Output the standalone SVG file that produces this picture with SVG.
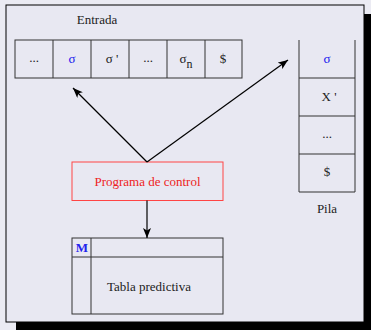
<svg xmlns="http://www.w3.org/2000/svg" width="371" height="330" viewBox="0 0 371 330">
<defs>
<marker id="ah" viewBox="0 0 10 8" refX="10" refY="4" markerWidth="10" markerHeight="8" markerUnits="userSpaceOnUse" orient="auto">
<path d="M0,0 L10,4 L0,8 L2.5,4 Z" fill="#000"/>
</marker>
</defs>
<style>
text{font-family:'Liberation Serif','DejaVu Serif',serif;font-size:13px;fill:#222;text-anchor:middle}
.cell{fill:none;stroke:#333;stroke-width:1}
.blue{fill:#2222ee}
.red{fill:#ee2222}
.conn{stroke:#000;stroke-width:1.2;fill:none;marker-end:url(#ah)}
</style>
<rect x="0" y="0" width="371" height="330" fill="#ebebf3"/>
<rect x="16" y="14" width="355" height="316" fill="#000"/>
<rect x="6" y="5" width="358" height="317" fill="#e8e8f2" stroke="#000" stroke-width="1"/>
<g font-family="Liberation Serif, serif">
<text x="97" y="24">Entrada</text>
<g id="entrada">
<rect class="cell" x="15" y="40" width="227" height="38"/>
<line class="cell" x1="53" y1="40" x2="53" y2="78"/>
<line class="cell" x1="91" y1="40" x2="91" y2="78"/>
<line class="cell" x1="129" y1="40" x2="129" y2="78"/>
<line class="cell" x1="167" y1="40" x2="167" y2="78"/>
<line class="cell" x1="205" y1="40" x2="205" y2="78"/>
<text x="34" y="62">...</text>
<text x="72" y="63" class="blue">σ</text>
<text x="112" y="63">σ '</text>
<text x="148" y="62">...</text>
<text x="186" y="63">σ<tspan dy="5" font-size="12">n</tspan></text>
<text x="223" y="63">$</text>
</g>
<g id="pila">
<path class="cell" d="M299,40 V192 H355 V40"/>
<line class="cell" x1="299" y1="78" x2="355" y2="78"/>
<line class="cell" x1="299" y1="116" x2="355" y2="116"/>
<line class="cell" x1="299" y1="154" x2="355" y2="154"/>
<text x="327" y="63" class="blue">σ</text>
<text x="329" y="101">X '</text>
<text x="327" y="138">...</text>
<text x="327" y="176">$</text>
<text x="327" y="213">Pila</text>
</g>
<g id="control">
<rect x="72" y="162" width="151" height="38.5" fill="none" stroke="#ff4444" stroke-width="1"/>
<text x="147.5" y="186" class="red">Programa de control</text>
</g>
<g id="tabla">
<rect class="cell" x="72" y="238" width="151" height="76"/>
<line class="cell" x1="72" y1="257" x2="223" y2="257"/>
<line class="cell" x1="91" y1="238" x2="91" y2="314"/>
<text x="82" y="252" class="blue" font-weight="bold">M</text>
<text x="149" y="291">Tabla predictiva</text>
</g>
</g>
<g id="connectors">
<line class="conn" x1="147" y1="162" x2="73" y2="88"/>
<line class="conn" x1="147" y1="162" x2="288" y2="60"/>
<line class="conn" x1="147" y1="200.5" x2="147" y2="238"/>
</g>
</svg>
